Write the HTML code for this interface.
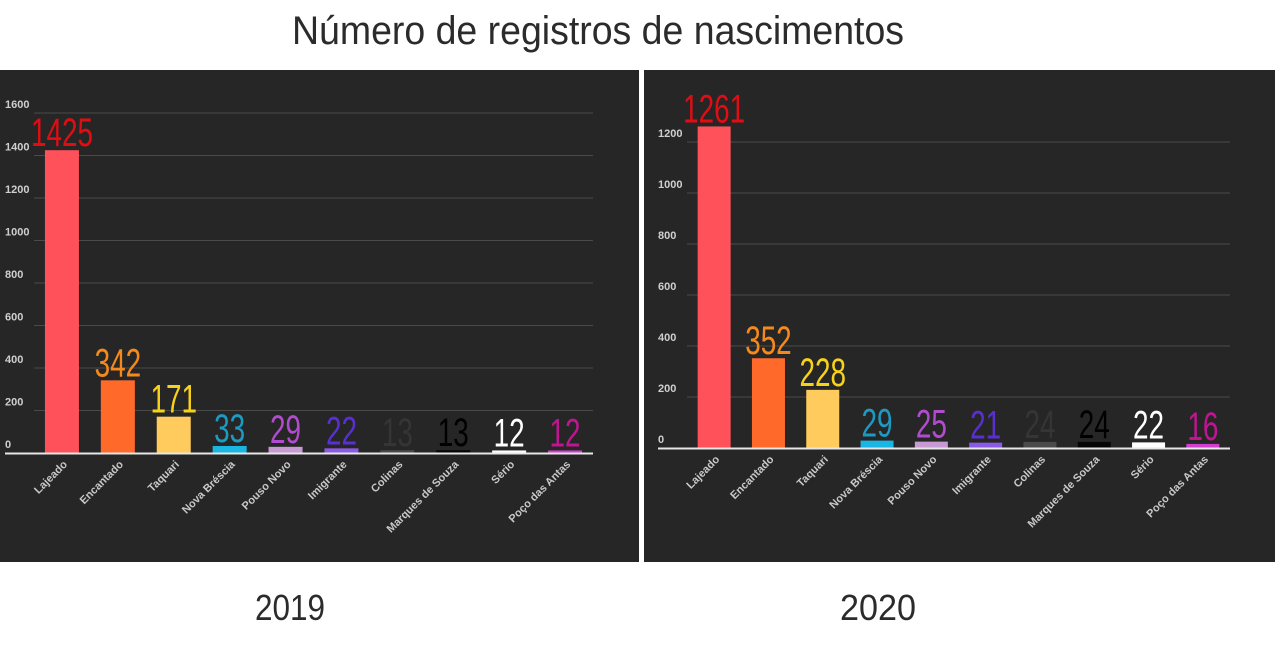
<!DOCTYPE html>
<html><head><meta charset="utf-8"><style>
html,body{margin:0;padding:0;background:#fff;}
svg{display:block;font-family:"Liberation Sans",sans-serif;}
</style></head><body>
<svg width="1280" height="651" viewBox="0 0 1280 651" id="root">
<text x="598" y="44" text-anchor="middle" font-size="40" fill="#2b2b2b" textLength="612" lengthAdjust="spacingAndGlyphs">Número de registros de nascimentos</text>
<rect x="0" y="70" width="639" height="492" fill="#262626"/>
<rect x="644" y="70" width="631" height="492" fill="#262626"/>
<text x="290" y="620" text-anchor="middle" font-size="36" fill="#2b2b2b" textLength="70" lengthAdjust="spacingAndGlyphs">2019</text>
<text x="878" y="620" text-anchor="middle" font-size="36" fill="#2b2b2b" textLength="76" lengthAdjust="spacingAndGlyphs">2020</text>
<g id="c2019"></g>
<g id="c2020"></g>
</svg>
<script>
const categories = ["Lajeado","Encantado","Taquari","Nova Brésca","Pouso Novo","Imigrante","Colinas","Marques de Souza","Sério","Poço das Antas"];
categories[3] = "Nova Bréscia";
const values2019 = [1425,342,171,33,29,22,13,13,12,12];
const values2020 = [1261,352,228,29,25,21,24,24,22,16];
const ticks2019 = [0,200,400,600,800,1000,1200,1400,1600];
const ticks2020 = [0,200,400,600,800,1000,1200];
const barColors = ["#ff5159","#ff6a2b","#ffcb5c","#19b6e3","#c79ad3","#8a5ae4","#4a4a4a","#050505","#ffffff","#d23fcf"];
const labelColors = ["#e00d12","#f5891b","#f7d21a","#1c9ac2","#b24ccf","#5a2fd2","#353535","#000000","#ffffff","#c01592"];
const NS="http://www.w3.org/2000/svg";
function mk(tag,attrs,parent){const e=document.createElementNS(NS,tag);for(const k in attrs)e.setAttribute(k,attrs[k]);parent.appendChild(e);return e;}
function draw(g,cfg,values,ticks){
  const y=v=>cfg.y0-(v/200)*cfg.step;
  const band=(cfg.x1-cfg.x0)/categories.length;
  const xc=i=>cfg.x0+band*(i+0.5);
  ticks.forEach(t=>{
    if(t>0){const l=mk('line',{x1:cfg.gx0,x2:cfg.x1,y1:y(t),y2:y(t),stroke:'#4a4a4a','stroke-width':1},g);
    
    }
    const tx=mk('text',{x:cfg.lx,y:y(t)-5,'font-size':11,'font-weight':'bold',fill:'#cfcfcf'},g);
    tx.textContent=t;
    
    
  });
  values.forEach((v,i)=>{
    const b=mk('rect',{x:xc(i)-cfg.bw/2,y:y(v),width:cfg.bw,height:cfg.y0-y(v),fill:barColors[i]},g);
    
    
    const s=String(v);
    const vl=mk('text',{x:xc(i),y:y(v)-4,'text-anchor':'middle','font-size':40,fill:labelColors[i],textLength:s.length*15.5,lengthAdjust:'spacingAndGlyphs'},g);
    vl.textContent=s;
    
    
    const cx=xc(i)+6, cy=cfg.y0+12;
    const cl=mk('text',{x:cx,y:cy,'text-anchor':'end','font-size':11,'font-weight':'bold',fill:'#c8c8c8',transform:`rotate(-45 ${cx} ${cy})`},g);
    cl.textContent=categories[i];
    
    
  });
  const base=mk('line',{x1:cfg.bx0,x2:cfg.x1,y1:cfg.y0+0.5,y2:cfg.y0+0.5,stroke:'#e6e6e6','stroke-width':2},g);
  
  
}
draw(document.getElementById('c2019'),{x0:34,x1:593,y0:453,step:42.5,bw:34,lx:5,gx0:34,bx0:5},values2019,ticks2019);
draw(document.getElementById('c2020'),{x0:687,x1:1230,y0:448,step:51,bw:33,lx:658,gx0:687,bx0:658},values2020,ticks2020);
</script>
</body></html>
